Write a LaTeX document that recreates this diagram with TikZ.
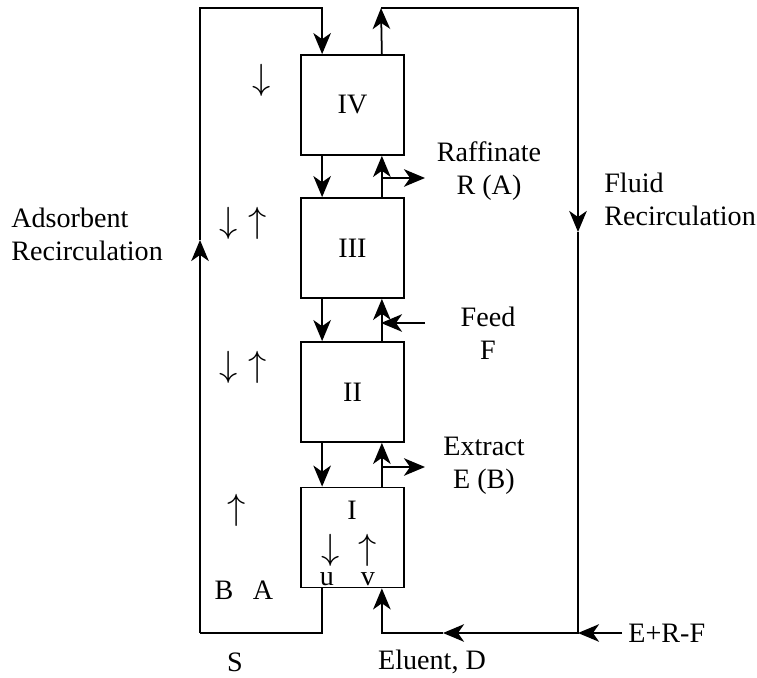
\documentclass[tikz,border=0pt]{standalone}
\usepackage{fontspec}
\setmainfont{Liberation Serif}
\usetikzlibrary{arrows.meta, positioning, calc}

\begin{document}
\begin{tikzpicture}[
    x=0.02cm, y=-0.02cm,
    font=\fontsize{16}{18.7}\selectfont,
    >={Stealth[length=12pt, width=10pt, inset=3.5pt]},
    zone/.style={draw, line width=1pt, minimum width=2.06cm, minimum height=2cm, inner sep=0pt},
    flow/.style={->, line width=1pt},
    pipe/.style={line width=1pt},
    lbl/.style={align=center, inner sep=0pt},
    lbll/.style={align=left, inner sep=0pt, anchor=west},
    dirmark/.style={inner sep=0pt, font=\fontsize{21}{22}\selectfont},
]
\useasboundingbox (0,0) rectangle (757,678);

% ── Zones (column sections) ──
\node[zone] (z4) at (352.5, 105) {IV};
\node[zone] (z3) at (352.5, 248) {III};
\node[zone] (z2) at (352.5, 392) {II};
\node[zone] (z1) at (352.5, 537.5) {};
\node[lbl] (z1name) at (352, 510) {I};

% ── Loop corners ──
\coordinate (tl) at (200, 8);
\coordinate (tc) at (381, 8);
\coordinate (tr) at (578, 8);
\coordinate (bl) at (200, 633);
\coordinate (br) at (578, 633);
\coordinate (ads) at (200, 240);
\coordinate (fl) at (578, 232);
\coordinate (el) at (443, 633);
\coordinate (erf) at (622, 633);

% ── Side stream ends ──
\coordinate (raf) at (381, 178);
\coordinate (rafout) at (425, 178);
\coordinate (feedin) at (425, 323);
\coordinate (feed) at (381, 323);
\coordinate (ext) at (381, 467);
\coordinate (extout) at (425, 467);

% ── Solid flow (down, left side of column) ──
\draw[flow] ([xshift=0.44cm]z4.south west) -- ([xshift=0.44cm]z3.north west);
\draw[flow] ([xshift=0.44cm]z3.south west) -- ([xshift=0.44cm]z2.north west);
\draw[flow] ([xshift=0.44cm]z2.south west) -- ([xshift=0.44cm]z1.north west);

% ── Fluid flow (up, right side of column) ──
\draw[flow] ([xshift=-0.46cm]z1.north east) -- ([xshift=-0.46cm]z2.south east);
\draw[flow] ([xshift=-0.46cm]z2.north east) -- ([xshift=-0.46cm]z3.south east);
\draw[flow] ([xshift=-0.46cm]z3.north east) -- ([xshift=-0.46cm]z4.south east);

% ── Adsorbent recirculation ──
\draw[pipe] ([xshift=0.44cm]z1.south west) |- (bl);
\draw[flow] (bl) -- (ads);
\draw[flow] (ads) -- (tl) -| ([xshift=0.44cm]z4.north west);

% ── Fluid recirculation ──
\draw[flow] ([xshift=-0.46cm]z4.north east) -- (tc);
\draw[flow] (tc) -- (tr) -- (fl);
\draw[flow] (fl) -- (br) -- (el);
\draw[flow] (el) -| ([xshift=-0.46cm]z1.south east);
\draw[flow] (erf) -- (br);

% ── Withdrawals and feed ──
\draw[flow] (raf) -- (rafout);
\draw[flow] (feedin) -- (feed);
\draw[flow] (ext) -- (extout);

% ── Labels ──
\node[lbl] (raflbl) at (489, 171) {Raffinate\\R (A)};
\node[lbl] (feedlbl) at (488, 333) {Feed\\F};
\node[lbl] (extlbl) at (484, 466) {Extract\\E (B)};
\node[lbll] (adslbl) at (11, 234) {Adsorbent\\Recirculation};
\node[lbll] (fllbl) at (604, 199) {Fluid\\Recirculation};
\node[lbll] (erflbl) at (628, 633) {E+R-F};
\node[lbl] (slbl) at (235, 662) {S};
\node[lbl] (ellbl) at (432, 662) {Eluent, D};

% ── Direction marks ──
\node[dirmark] (d4) at (262, 80) {$\downarrow$};
\node[dirmark] (d3) at (229, 223) {$\downarrow$};
\node[dirmark] (u3) at (258, 223) {$\uparrow$};
\node[dirmark] (d2) at (229, 367) {$\downarrow$};
\node[dirmark] (u2) at (258, 367) {$\uparrow$};
\node[dirmark] (u1) at (237, 510) {$\uparrow$};
\node[lbl] (blbl) at (224, 590) {B};
\node[lbl] (albl) at (263, 590) {A};
\node[dirmark] (du) at (331, 550) {$\downarrow$};
\node[dirmark] (uv) at (368, 550) {$\uparrow$};
\node[lbl] (ulbl) at (327, 579) {u};
\node[lbl] (vlbl) at (368, 579) {v};
\end{tikzpicture}
\end{document}
